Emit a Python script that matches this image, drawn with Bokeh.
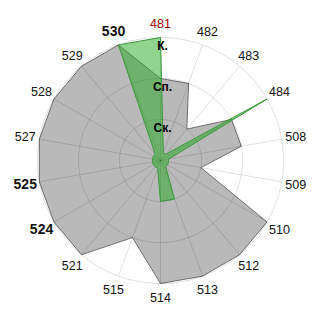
import numpy as np
from bokeh.plotting import figure
from bokeh.models import ColumnDataSource
from bokeh.core.properties import value
from bokeh.embed import file_html
from bokeh.resources import INLINE

categories = ["481", "482", "483", "484", "508", "509", "510", "512", "513",
              "514", "515", "521", "524", "525", "527", "528", "529", "530"]
gray_values = [2, 2, 1, 2, 2, 1, 3, 3, 3, 3, 2, 3, 3, 3, 3, 3, 3, 3]
green_values = [3, 0.2, 0.2, 3, 0.2, 0.2, 0.2, 0.2, 1, 1, 0.2, 0.2, 0.2, 0.2, 0.2, 0.2, 0.2, 3]
bold_labels = ["530", "525", "524"]
red_labels = ["481"]
ring_levels = [1, 2, 3]
ring_labels = ["Ск.", "Сп.", "К."]
r_max = 3

n = len(categories)
theta = np.pi / 2 - np.arange(n) * 2 * np.pi / n

unit = 41.0
half = 160.0 / unit

p = figure(width=320, height=320, x_range=(-half, half), y_range=(-half, half),
           output_backend="svg", toolbar_location=None, min_border=0)
p.axis.visible = False
p.grid.visible = False
p.outline_line_color = None
p.background_fill_color = "white"

def poly(vals):
    v = np.array(vals, dtype=float)
    return list(v * np.cos(theta)), list(v * np.sin(theta))

gx, gy = poly(gray_values)
p.patch(gx, gy, fill_color="#b9b9b9", line_color="#6f6f6f", line_width=1)

# grid circles
t = np.linspace(0, 2 * np.pi, 200)
for lvl in ring_levels:
    p.line(list(lvl * np.cos(t)), list(lvl * np.sin(t)), line_color="#000000",
           line_alpha=0.12, line_width=1)
# spokes
for th in theta:
    p.line([0, r_max * np.cos(th)], [0, r_max * np.sin(th)], line_color="#000000",
           line_alpha=0.12, line_width=1)

grx, gry = poly(green_values)
p.patch(grx, gry, fill_color="#22aa22", fill_alpha=0.5, line_color="#3a9a3a", line_width=1)

# category labels
lab_r = 3.35
lx = list(lab_r * np.cos(theta))
ly = list(lab_r * np.sin(theta))
colors = ["#990000" if c in red_labels else "#111111" for c in categories]
styles = ["bold" if c in bold_labels else "normal" for c in categories]
sizes = ["14px" if c in bold_labels else "12.5px" for c in categories]
src = ColumnDataSource(dict(x=lx, y=ly, t=categories, c=colors, s=styles, z=sizes))
p.text(x="x", y="y", text="t", text_color="c", text_font_style="s", text_font_size="z",
       text_font=value("Liberation Sans"), text_align="center", text_baseline="middle",
       source=src)

# ring labels
rsrc = ColumnDataSource(dict(x=[0.05] * len(ring_levels),
                             y=[lv - 0.2 for lv in ring_levels], t=ring_labels))
p.text(x="x", y="y", text="t", text_color="#000000", text_font_style="bold",
       text_font_size="12px", text_font=value("Liberation Sans"), text_align="center",
       text_baseline="middle", source=rsrc)

open("out.html", "w").write(file_html(p, INLINE))
